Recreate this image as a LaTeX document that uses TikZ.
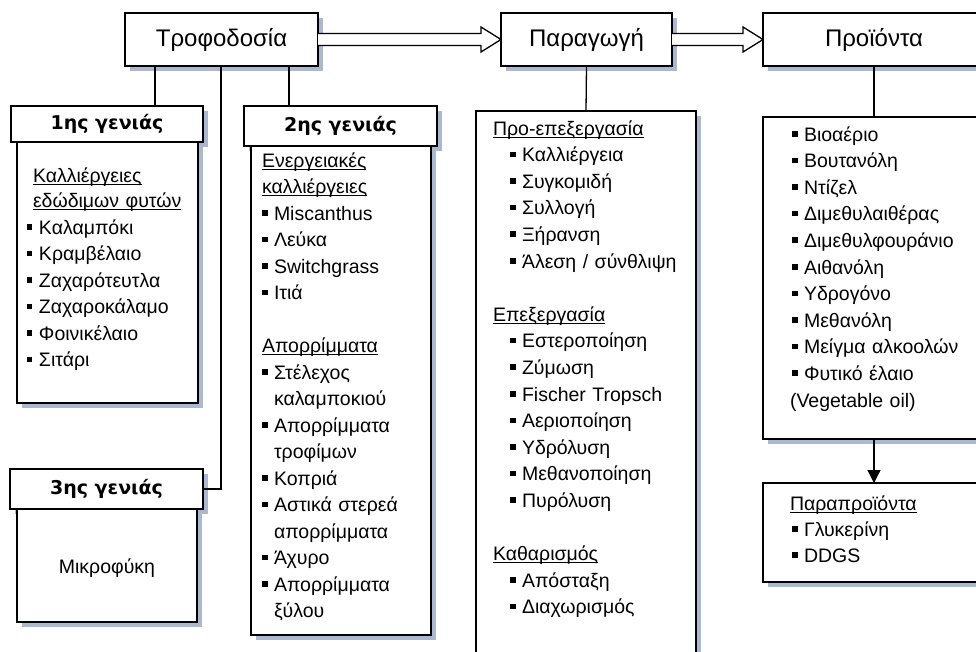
\documentclass[tikz,border=0pt]{standalone}
\usepackage{fontspec}
\setmainfont{Liberation Sans}
\newfontfamily\hdfont{DejaVu Sans}
\usetikzlibrary{arrows.meta,calc,shadows}

\definecolor{shadowc}{RGB}{170,184,208}

% list helpers: square bullet, hanging indent, underline through descenders
\newcommand\bl{\leavevmode\makebox[12pt][l]{\rule[4.5pt]{5.5pt}{5.5pt}}}
\newcommand\contind{\leavevmode\hspace*{12pt}}
\newcommand\ulx[1]{\leavevmode\sbox0{#1}\rlap{\rule[-2.6pt]{\wd0}{1.1pt}}\usebox0}

\begin{document}
\begin{tikzpicture}[x=1pt,y=-1pt,
  every node/.style={inner sep=0pt, outer sep=0pt},
  box/.style={draw=black, line width=1.5pt, fill=white, rectangle,
    drop shadow={shadow xshift=5pt, shadow yshift=-5pt, fill=shadowc, opacity=1}},
  titlebox/.style={box, minimum height=53pt, font=\fontsize{24}{28}\selectfont},
  hdbox/.style={box, font=\hdfont\bfseries\fontsize{19}{22}\selectfont},
  txt/.style={anchor=base west, align=left, text width=230pt},
  conn/.style={draw=black, line width=1.3pt},
  dblarrow/.style={draw=black, line width=1.3pt, fill=white, line join=miter}]

\useasboundingbox (0,0) rectangle (976,651);
\fill[white] (0,0) rectangle (976,651);
\clip (0,0) rectangle (976,651);

% top row
\node[titlebox, minimum width=193pt] (tro) at (221.5,39.5) {Τροφοδοσία};
\node[titlebox, minimum width=171pt] (par) at (586.5,39.5) {Παραγωγή};
\node[titlebox, minimum width=222pt] (pro) at (874,39.5) {Προϊόντα};

% feedstock generations
\node[hdbox, minimum width=192pt, minimum height=36pt] (g1h) at (107,124) {1ης γενιάς};
\node[box, minimum width=181pt, minimum height=261pt] (g1b) at (107.5,272.5) {};
\node[hdbox, minimum width=193pt, minimum height=40pt] (g2h) at (340.5,126) {2ης γενιάς};
\node[box, minimum width=180pt, minimum height=489pt] (g2b) at (341,390.5) {};
\node[hdbox, minimum width=193pt, minimum height=40pt] (g3h) at (106.5,489) {3ης γενιάς};
\node[box, minimum width=180pt, minimum height=113pt] (g3b) at (107,565.5) {};

% production steps, products, by-products
\node[box, minimum width=220pt, minimum height=570pt] (prod) at (586,396) {};
\node[box, minimum width=222pt, minimum height=322pt] (outb) at (874,278) {};
\node[box, minimum width=222pt, minimum height=99pt] (byp) at (874,532.5) {};

% connectors
\coordinate (j1) at (155,0);
\coordinate (j2) at (221,0);
\coordinate (j3) at (289,0);
\draw[conn] (j1 |- tro.south) -- (j1 |- g1h.north);
\draw[conn] (j2 |- tro.south) |- (g3h.east);
\draw[conn] (j3 |- tro.south) -- (j3 |- g2h.north);
\draw[conn] (par.south) -- (prod.north);
\draw[conn] (pro.south) -- (outb.north);
\draw[conn, -{Triangle[length=13pt,width=13pt]}] (outb.south) -- (byp.north);

% hollow block arrows between the stages
\draw[dblarrow] ($(tro.east)+(0,-6)$) -- ($(par.west)+(-20,-6)$) -- ($(par.west)+(-20,-12.5)$)
  -- (par.west) -- ($(par.west)+(-20,12.5)$) -- ($(par.west)+(-20,6)$) -- ($(tro.east)+(0,6)$);
\draw[dblarrow] ($(par.east)+(0,-6)$) -- ($(pro.west)+(-20,-6)$) -- ($(pro.west)+(-20,-12.5)$)
  -- (pro.west) -- ($(pro.west)+(-20,12.5)$) -- ($(pro.west)+(-20,6)$) -- ($(par.east)+(0,6)$);

% box contents
\node[txt, font=\fontsize{19.5}{25}\selectfont] (t1h) at (33,182)
  {\ulx{Καλλιέργειες}\\\ulx{εδώδιμων φυτών}};
\node[txt, font=\fontsize{19.5}{26.5}\selectfont] (t1l) at (27,234)
  {\bl Καλαμπόκι\\\bl Κραμβέλαιο\\\bl Ζαχαρότευτλα\\\bl Ζαχαροκάλαμο\\\bl Φοινικέλαιο\\\bl Σιτάρι};

\node[txt, font=\fontsize{19.5}{26.5}\selectfont] (t2) at (262,167)
  {\ulx{Ενεργειακές}\\\ulx{καλλιέργειες}\\\bl Miscanthus\\\bl Λεύκα\\\bl Switchgrass\\\bl Ιτιά\\[26.5pt]
   \ulx{Απορρίμματα}\\\bl Στέλεχος\\\contind καλαμποκιού\\\bl Απορρίμματα\\\contind τροφίμων\\\bl Κοπριά\\
   \bl Αστικά στερεά\\\contind απορρίμματα\\\bl Άχυρο\\\bl Απορρίμματα\\\contind ξύλου};

\node[font=\fontsize{19.5}{24}\selectfont] (t3) at (107,568) {Μικροφύκη};

\node[txt, font=\fontsize{19.5}{26.6}\selectfont] (tp) at (493,135)
  {\ulx{Προ-επεξεργασία}\\
   \hspace*{17pt}\bl Καλλιέργεια\\\hspace*{17pt}\bl Συγκομιδή\\\hspace*{17pt}\bl Συλλογή\\
   \hspace*{17pt}\bl Ξήρανση\\\hspace*{17pt}\bl Άλεση / σύνθλιψη\\[26.6pt]
   \ulx{Επεξεργασία}\\
   \hspace*{17pt}\bl Εστεροποίηση\\\hspace*{17pt}\bl Ζύμωση\\\hspace*{17pt}\bl Fischer Tropsch\\
   \hspace*{17pt}\bl Αεριοποίηση\\\hspace*{17pt}\bl Υδρόλυση\\\hspace*{17pt}\bl Μεθανοποίηση\\
   \hspace*{17pt}\bl Πυρόλυση\\[26.6pt]
   \ulx{Καθαρισμός}\\
   \hspace*{17pt}\bl Απόσταξη\\\hspace*{17pt}\bl Διαχωρισμός};

\node[txt, font=\fontsize{19.5}{26.6}\selectfont] (tout) at (790,141)
  {\hspace*{2pt}\bl Βιοαέριο\\\hspace*{2pt}\bl Βουτανόλη\\\hspace*{2pt}\bl Ντίζελ\\
   \hspace*{2pt}\bl Διμεθυλαιθέρας\\\hspace*{2pt}\bl Διμεθυλφουράνιο\\\hspace*{2pt}\bl Αιθανόλη\\
   \hspace*{2pt}\bl Υδρογόνο\\\hspace*{2pt}\bl Μεθανόλη\\\hspace*{2pt}\bl Μείγμα αλκοολών\\
   \hspace*{2pt}\bl Φυτικό έλαιο\\(Vegetable oil)};

\node[txt, font=\fontsize{19.5}{26}\selectfont] (tby) at (790,510)
  {\ulx{Παραπροϊόντα}\\\hspace*{2pt}\bl Γλυκερίνη\\\hspace*{2pt}\bl DDGS};
\end{tikzpicture}
\end{document}
